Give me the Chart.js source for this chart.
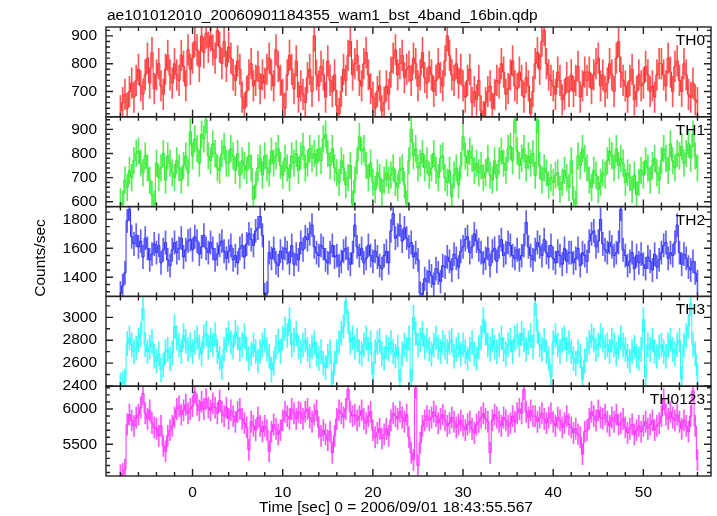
<!DOCTYPE html>
<html>
<head>
<meta charset="utf-8">
<script src="https://cdn.jsdelivr.net/npm/chart.js@4.4.1/dist/chart.umd.min.js"></script>
<style>
  html, body { margin: 0; padding: 0; background: #fff; }
  #wrap { width: 717px; height: 516px; }
</style>
</head>
<body>
<div id="wrap"><canvas id="qdp" width="717" height="516"></canvas></div>
<script>
// light curve, 0.25 s bins starting at t = -8 s
const t0 = -8;
const dt = 0.25;
const bands = ['TH0', 'TH1', 'TH2', 'TH3', 'TH0123'];

const th0 = [
  630, 660, 690, 640, 700, 730, 680, 740,
  780, 720, 690, 760, 820, 730, 840, 710,
  760, 800, 720, 690, 780, 830, 760, 730,
  800, 760, 740, 830, 790, 720, 850, 780,
  820, 880, 850, 790, 900, 840, 910, 860,
  900, 850, 820, 920, 860, 800, 880, 790,
  860, 820, 760, 740, 810, 780, 680, 640,
  700, 760, 800, 720, 740, 790, 710, 760,
  730, 780, 820, 760, 720, 850, 790, 740,
  690, 640, 760, 830, 780, 710, 810, 680,
  720, 690, 660, 750, 780, 700, 900, 760,
  720, 790, 760, 680, 810, 740, 700, 760,
  650, 620, 700, 780, 740, 830, 880, 760,
  800, 830, 740, 720, 800, 840, 760, 710,
  680, 640, 700, 720, 630, 660, 720, 690,
  770, 820, 850, 760, 800, 830, 750, 780,
  790, 740, 820, 800, 720, 760, 840, 750,
  730, 790, 760, 700, 740, 800, 750, 720,
  810, 900, 830, 760, 740, 800, 730, 780,
  720, 680, 740, 780, 660, 700, 670, 740,
  630, 610, 660, 700, 720, 640, 690, 740,
  730, 800, 770, 690, 710, 760, 810, 720,
  710, 770, 740, 680, 750, 720, 620, 700,
  800, 840, 780, 880, 920, 800, 760, 740,
  720, 690, 770, 740, 670, 690, 750, 700,
  760, 700, 740, 790, 680, 720, 770, 740,
  770, 710, 760, 800, 820, 720, 760, 700,
  730, 800, 760, 700, 820, 880, 770, 740,
  720, 680, 740, 780, 670, 700, 760, 720,
  730, 790, 760, 700, 720, 680, 760, 800,
  800, 760, 720, 820, 770, 700, 790, 810,
  740, 700, 800, 760, 690, 680, 730, 670,
  660
];
const th1 = [
  600, 590, 690, 660, 730, 700, 770, 800,
  810, 760, 720, 790, 740, 690, 630, 590,
  760, 700, 740, 800, 690, 790, 760, 720,
  700, 770, 740, 690, 750, 790, 720, 890,
  790, 860, 820, 760, 880, 860, 940, 790,
  770, 840, 800, 740, 730, 800, 830, 760,
  760, 820, 790, 730, 800, 710, 770, 750,
  730, 790, 740, 610, 670, 740, 780, 710,
  790, 740, 720, 810, 760, 790, 820, 750,
  710, 780, 740, 700, 790, 760, 800, 730,
  790, 830, 740, 760, 820, 780, 800, 760,
  820, 770, 860, 880, 800, 750, 820, 740,
  720, 680, 770, 740, 670, 700, 750, 590,
  690, 770, 870, 810, 820, 750, 700, 760,
  680, 650, 720, 700, 640, 690, 720, 690,
  710, 740, 680, 660, 730, 740, 670, 590,
  770, 900, 790, 820, 740, 760, 800, 740,
  770, 710, 740, 800, 730, 700, 780, 790,
  700, 680, 730, 620, 710, 740, 670, 750,
  870, 790, 760, 810, 780, 730, 760, 720,
  750, 700, 720, 780, 710, 690, 770, 700,
  770, 810, 760, 730, 820, 830, 770, 940,
  810, 750, 780, 820, 740, 790, 760, 800,
  710, 940, 750, 690, 740, 720, 670, 700,
  680, 710, 720, 650, 680, 730, 700, 660,
  770, 610, 590, 790, 750, 820, 780, 740,
  690, 660, 730, 710, 650, 680, 720, 710,
  770, 810, 790, 740, 820, 750, 780, 760,
  680, 720, 700, 650, 710, 630, 680, 730,
  710, 770, 740, 690, 750, 780, 720, 690,
  770, 820, 780, 730, 840, 770, 740, 800,
  790, 830, 760, 800, 840, 780, 880, 790,
  740
];
const th2 = [
  1290, 1340, 1430, 1790, 1870, 1680, 1630, 1690,
  1610, 1650, 1540, 1670, 1600, 1520, 1560, 1630,
  1570, 1620, 1500, 1590, 1640, 1520, 1480, 1590,
  1640, 1570, 1600, 1670, 1540, 1590, 1650, 1660,
  1590, 1680, 1650, 1560, 1610, 1690, 1600, 1570,
  1640, 1600, 1520, 1560, 1620, 1650, 1580, 1530,
  1580, 1620, 1520, 1550, 1500, 1600, 1620, 1540,
  1630, 1700, 1660, 1620, 1720, 1740, 1820, 1690,
  1280, 1290, 1570, 1530, 1600, 1500, 1480, 1580,
  1530, 1600, 1570, 1500, 1620, 1490, 1560, 1520,
  1640, 1590, 1680, 1660, 1700, 1760, 1610, 1570,
  1550, 1620, 1600, 1520, 1500, 1570, 1620, 1540,
  1550, 1480, 1510, 1580, 1600, 1530, 1490, 1570,
  1760, 1610, 1550, 1600, 1500, 1530, 1620, 1550,
  1510, 1580, 1540, 1480, 1460, 1550, 1580, 1500,
  1720, 1840, 1670, 1690, 1760, 1650, 1740, 1670,
  1610, 1640, 1540, 1570, 1520, 1290, 1280, 1390,
  1370, 1440, 1410, 1350, 1460, 1430, 1370, 1480,
  1470, 1540, 1510, 1450, 1560, 1530, 1470, 1580,
  1610, 1660, 1680, 1570, 1610, 1700, 1650, 1590,
  1570, 1500, 1530, 1600, 1480, 1580, 1600, 1510,
  1610, 1660, 1550, 1570, 1640, 1620, 1550, 1530,
  1590, 1520, 1550, 1620, 1780, 1610, 1550, 1520,
  1590, 1640, 1610, 1550, 1660, 1570, 1540, 1620,
  1530, 1500, 1580, 1550, 1490, 1600, 1510, 1570,
  1570, 1500, 1530, 1600, 1480, 1570, 1550, 1510,
  1650, 1700, 1720, 1610, 1650, 1800, 1630, 1590,
  1570, 1640, 1610, 1550, 1570, 1640, 1870, 1590,
  1550, 1480, 1510, 1570, 1460, 1550, 1500, 1560,
  1490, 1460, 1540, 1510, 1450, 1560, 1470, 1520,
  1570, 1620, 1640, 1530, 1570, 1550, 1640, 1760,
  1570, 1490, 1560, 1530, 1470, 1450, 1510, 1430,
  1370
];
const th3 = [
  2410, 2420, 2440, 2770, 2820, 2760, 2700, 2730,
  2800, 2850, 3080, 2760, 2700, 2740, 2790, 2660,
  2620, 2680, 2540, 2580, 2700, 2720, 2640, 2690,
  2920, 2820, 2760, 2700, 2840, 2790, 2720, 2760,
  2700, 2780, 2820, 2740, 2680, 2830, 2860, 2740,
  2800, 2760, 2850, 2700, 2640, 2560, 2720, 2800,
  2860, 2780, 2740, 2870, 2820, 2720, 2760, 2840,
  2720, 2640, 2680, 2760, 2700, 2620, 2700, 2760,
  2800, 2720, 2660, 2540, 2600, 2740, 2790, 2700,
  2820, 2900, 2840, 2980, 2760, 2800, 2860, 2740,
  2700, 2760, 2800, 2720, 2660, 2740, 2780, 2680,
  2640, 2700, 2600, 2560, 2660, 2700, 2420, 2600,
  2700, 2780, 2860, 2920, 3140, 2960, 2780, 2820,
  2740, 2800, 2700, 2680, 2760, 2820, 2720, 2780,
  2500, 2700, 2780, 2800, 2680, 2640, 2740, 2720,
  2780, 2700, 2660, 2740, 2440, 2680, 2760, 2720,
  2820, 2440, 3000, 2860, 2760, 2800, 2860, 2740,
  2800, 2720, 2680, 2760, 2820, 2740, 2700, 2780,
  2740, 2700, 2780, 2800, 2660, 2720, 2760, 2680,
  2760, 2700, 2640, 2720, 2780, 2680, 2640, 2740,
  2820, 2980, 2860, 2760, 2720, 2800, 2740, 2700,
  2760, 2820, 2720, 2680, 2760, 2800, 2700, 2820,
  2840, 2760, 2860, 2800, 2720, 2780, 2840, 2740,
  3120, 2880, 2760, 2720, 2800, 2700, 2640, 2480,
  2780, 2840, 2760, 2700, 2800, 2820, 2720, 2780,
  2700, 2640, 2600, 2700, 2660, 2460, 2620, 2720,
  2780, 2840, 2800, 2720, 2760, 2840, 2800, 2740,
  2760, 2700, 2800, 2760, 2680, 2740, 2820, 2760,
  2720, 2660, 2620, 2700, 2740, 2660, 2640, 2720,
  2980, 2480, 2760, 2720, 2800, 2700, 2660, 2740,
  2760, 2700, 2660, 2760, 2800, 2720, 2680, 2760,
  2800, 2460, 2760, 2840, 2920, 3120, 2760, 2680,
  2490
];
const th0123 = [
  5060, 5080, 5140, 5780, 5920, 5840, 5760, 5880,
  5920, 6020, 6220, 5940, 5860, 5980, 5800, 5740,
  5720, 5620, 5760, 5480, 5400, 5620, 5700, 5760,
  5880, 6000, 6040, 5920, 5980, 6060, 5940, 6000,
  6040, 6240, 6060, 5980, 6100, 6000, 6140, 6020,
  5980, 6080, 6020, 5940, 6120, 5960, 5900, 6020,
  5860, 5980, 5900, 5820, 5960, 6000, 5860, 5800,
  5740, 5420, 5820, 5760, 5700, 5880, 5760, 5680,
  5760, 5700, 5400, 5680, 5780, 5720, 5640, 5700,
  5840, 5960, 5900, 5860, 6000, 5940, 5860, 5960,
  5940, 5860, 5960, 6000, 5880, 5820, 5920, 5980,
  5740, 5620, 5700, 5640, 5560, 5680, 5380, 5620,
  5860, 5980, 5940, 5880, 6000, 6280, 5960, 5900,
  5920, 5840, 5900, 5980, 5860, 5800, 5900, 5960,
  5700, 5600, 5660, 5720, 5580, 5640, 5720, 5620,
  5840, 5940, 5900, 5860, 5960, 5880, 5820, 5920,
  5600, 5380, 5280, 6300, 5200, 5520, 5760, 5840,
  5900, 5840, 5880, 5960, 5900, 5800, 5860, 5920,
  5840, 5760, 5800, 5880, 5820, 5740, 5780, 5840,
  5760, 5700, 5780, 5820, 5720, 5660, 5780, 5820,
  5880, 5940, 5860, 5820, 5380, 5840, 5920, 5880,
  5820, 5760, 5880, 5840, 5760, 5800, 5900, 5820,
  5940, 6000, 5940, 6280, 5960, 5880, 5980, 5900,
  5900, 5820, 5880, 5940, 5860, 5800, 5880, 5940,
  5820, 5760, 5880, 5840, 5740, 5800, 5900, 5780,
  5740, 5660, 5720, 5640, 5600, 5360, 5680, 5700,
  5860, 5960, 5900, 5840, 5980, 5880, 5860, 5920,
  5820, 5760, 5880, 5820, 5920, 5780, 5800, 5860,
  5740, 5660, 5720, 5780, 5640, 5700, 5760, 5680,
  5760, 5820, 5720, 5780, 5840, 5700, 5760, 5800,
  5900, 6140, 5920, 5860, 5960, 5880, 5840, 5920,
  5820, 5720, 5840, 5760, 5680, 5900, 6260, 5760,
  5280
];
// 1-sigma error per band (counts/sec)
const errs = [55, 55, 80, 105, 150];

// axis ranges and tick labels
const xRange = [-9.6, 57.5];
const xTicks = [0, 10, 20, 30, 40, 50];
const yRanges = [[609, 932], [580, 952], [1268, 1888], [2398, 3183], [5051, 6323]];
const yTicks = [[700, 800, 900], [600, 700, 800, 900], [1400, 1600, 1800], [2400, 2600, 2800, 3000], [5500, 6000]];
const yMinor = [20, 20, 50, 100, 100];
const series = [th0, th1, th2, th3, th0123];
const colors = ['rgb(255,45,45)', 'rgb(45,235,45)', 'rgb(45,45,255)', 'rgb(40,250,250)', 'rgb(255,45,255)'];
const barColors = ['rgba(255,45,45,0.8)', 'rgba(45,235,45,0.8)', 'rgba(45,45,255,0.75)', 'rgba(40,250,250,0.85)', 'rgba(255,45,255,0.8)'];

const FONT = "'Liberation Sans', Arial, Helvetica, sans-serif";
Chart.defaults.font.family = FONT;
Chart.defaults.font.size = 15.5;
Chart.defaults.color = '#000';

const datasets = [];
series.forEach((vals, i) => {
  const pts = vals.map((v, k) => ({ x: t0 + k * dt, y: v }));
  datasets.push({
    type: 'bar',
    data: pts.map(p => ({ x: p.x, y: [p.y - errs[i], p.y + errs[i]] })),
    yAxisID: 'y' + i,
    backgroundColor: barColors[i],
    borderWidth: 0,
    barThickness: 1,
    grouped: false,
    clip: 0
  });
  datasets.push({
    type: 'line',
    data: pts,
    yAxisID: 'y' + i,
    borderColor: colors[i],
    borderWidth: 1,
    pointRadius: 0,
    stepped: 'middle',
    fill: false,
    clip: 0
  });
});

const scales = {
  x: {
    type: 'linear', position: 'bottom', offset: false,
    min: xRange[0], max: xRange[1],
    grid: { display: false, drawTicks: false, offset: false },
    border: { display: false },
    afterBuildTicks: s => { s.ticks = xTicks.map(v => ({ value: v })); },
    afterFit: s => { s.height = 40; },
    ticks: { padding: 7, maxRotation: 0, autoSkip: false, callback: v => String(v) }
  }
};
// left boxes are laid out in reverse order, so define the bottom panel first
for (let i = bands.length - 1; i >= 0; i--) {
  scales['y' + i] = {
    type: 'linear', position: 'left', stack: 'panels', stackWeight: 1,
    min: yRanges[i][0], max: yRanges[i][1], offset: false,
    grid: { display: false, drawTicks: false },
    border: { display: false },
    afterBuildTicks: s => { s.ticks = yTicks[i].map(v => ({ value: v })); },
    afterFit: s => { s.width = 106; },
    ticks: { padding: 9, autoSkip: false, callback: v => String(v) }
  };
}

const qdpFrame = {
  id: 'qdpFrame',
  afterDraw(chart) {
    const ctx = chart.ctx;
    const { left, right } = chart.chartArea;
    const xs = chart.scales.x;
    ctx.save();
    ctx.strokeStyle = '#222';
    ctx.lineWidth = 1.4;
    bands.forEach((name, i) => {
      const ys = chart.scales['y' + i];
      const top = ys.top, bottom = ys.bottom;
      ctx.strokeRect(left, top, right - left, bottom - top);
      ctx.beginPath();
      // y ticks, inward on both sides
      const step = yMinor[i];
      for (let v = Math.ceil(yRanges[i][0] / step) * step; v <= yRanges[i][1]; v += step) {
        const y = ys.getPixelForValue(v);
        const len = yTicks[i].includes(v) ? 7 : 4;
        ctx.moveTo(left, y); ctx.lineTo(left + len, y);
        ctx.moveTo(right, y); ctx.lineTo(right - len, y);
      }
      // x ticks, inward on top and bottom
      for (let t = Math.ceil(xRange[0] / 2) * 2; t <= xRange[1]; t += 2) {
        const x = xs.getPixelForValue(t);
        const len = t % 10 === 0 ? 7 : 4;
        ctx.moveTo(x, bottom); ctx.lineTo(x, bottom - len);
        ctx.moveTo(x, top); ctx.lineTo(x, top + len);
      }
      ctx.stroke();
      ctx.fillStyle = '#000';
      ctx.font = '15.5px ' + FONT;
      ctx.textAlign = 'right';
      ctx.textBaseline = 'alphabetic';
      ctx.fillText(name, right - 6, top + 18);
    });
    ctx.fillStyle = '#000';
    ctx.font = '15.5px ' + FONT;
    ctx.textAlign = 'left';
    ctx.textBaseline = 'alphabetic';
    ctx.fillText('ae101012010_20060901184355_wam1_bst_4band_16bin.qdp', 107, 20);
    ctx.textAlign = 'center';
    ctx.textBaseline = 'middle';
    ctx.fillText('Time [sec] 0 = 2006/09/01 18:43:55.567', 396, 508);
    ctx.translate(41, 258);
    ctx.rotate(-Math.PI / 2);
    ctx.fillText('Counts/sec', 0, 0);
    ctx.restore();
  }
};

new Chart(document.getElementById('qdp'), {
  data: { datasets },
  options: {
    responsive: false,
    animation: false,
    layout: { padding: { top: 27, right: 6, bottom: 0, left: 0 } },
    plugins: { legend: { display: false }, tooltip: { enabled: false }, title: { display: false } },
    scales
  },
  plugins: [qdpFrame]
});
</script>
</body>
</html>
